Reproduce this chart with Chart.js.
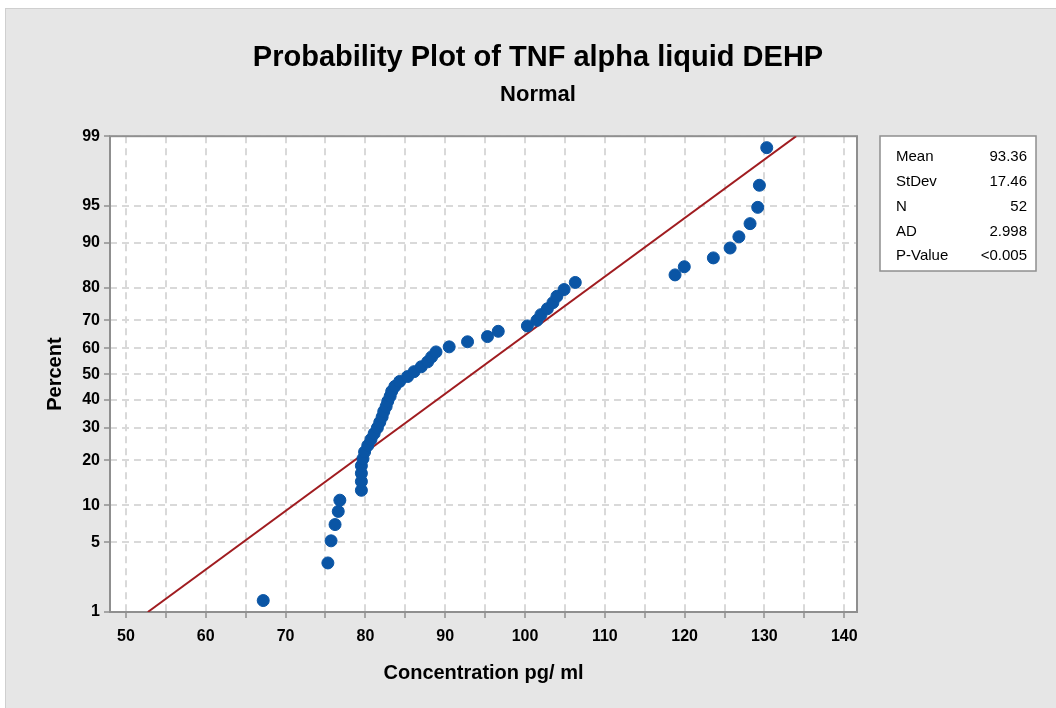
<!DOCTYPE html>
<html>
<head>
<meta charset="utf-8">
<title>Probability Plot of TNF alpha liquid DEHP</title>
<script src="https://cdn.jsdelivr.net/npm/chart.js@4.4.1/dist/chart.umd.min.js"></script>
<style>
  html, body { margin: 0; padding: 0; background: #ffffff; }
  #wrap { width: 1056px; height: 708px; position: relative; }
</style>
</head>
<body>
<div id="wrap"><canvas id="probplot" width="1056" height="708"></canvas></div>
<script>
/* Normal probability plot — Minitab style */

const FONT = "'Liberation Sans', Arial, sans-serif";

// concentration values, sorted ascending (pg/ml)
const concentrations = [
    67.2, 75.3, 75.7, 76.2, 76.6, 76.8, 79.5, 79.5, 79.5, 79.5,
    79.7, 79.9, 80.3, 80.7, 81.1, 81.5, 81.8, 82.1, 82.3, 82.6,
    82.8, 83.1, 83.3, 83.7, 84.3, 85.3, 86.1, 87.0, 87.8, 88.3,
    88.85, 90.5, 92.8, 95.3, 96.65, 100.3, 101.5, 102.0, 102.8, 103.5,
    104.0, 104.9, 106.3, 118.8, 119.96, 123.6, 125.7, 126.8, 128.2, 129.16,
    129.37, 130.29,
];
// plotting positions (percent) for each ranked value
const percents = [
    1.34, 3.24, 5.15, 7.06, 8.97, 10.88, 12.79, 14.69, 16.60, 18.51,
    20.42, 22.33, 24.24, 26.15, 28.05, 29.96, 31.87, 33.78, 35.69, 37.60,
    39.50, 41.41, 43.32, 45.23, 47.14, 49.05, 50.95, 52.86, 54.77, 56.68,
    58.59, 60.50, 62.40, 64.31, 66.22, 68.13, 70.04, 71.95, 73.85, 75.76,
    77.67, 79.58, 81.49, 83.40, 85.31, 87.21, 89.12, 91.03, 92.94, 94.85,
    96.76, 98.66,
];

const percentTicks = [1, 5, 10, 20, 30, 40, 50, 60, 70, 80, 90, 95, 99];
const xTicks = [50, 55, 60, 65, 70, 75, 80, 85, 90, 95, 100, 105, 110, 115, 120, 125, 130, 135, 140];

const fitMean = 93.36;
const fitStDev = 17.46;
const fitPercents = [1, 99];

const statLabels = ["Mean", "StDev", "N", "AD", "P-Value"];
const statValues = ["93.36", "17.46", "52", "2.998", "<0.005"];

// inverse standard normal CDF (Acklam)
function probit(p) {
    const a = [-39.6968302866538, 220.946098424521, -275.928510446969, 138.357751867269, -30.6647980661472, 2.50662827745924];
    const b = [-54.4760987982241, 161.585836858041, -155.698979859887, 66.8013118877197, -13.2806815528857];
    const c = [-0.00778489400243029, -0.322396458041136, -2.40075827716184, -2.54973253934373, 4.37466414146497, 2.93816398269878];
    const d = [0.00778469570904146, 0.32246712907004, 2.445134137143, 3.75440866190742];
    const plow = 0.02425;
    let q, r;
    if (p < plow) {
        q = Math.sqrt(-2 * Math.log(p));
        return (((((c[0] * q + c[1]) * q + c[2]) * q + c[3]) * q + c[4]) * q + c[5]) /
            ((((d[0] * q + d[1]) * q + d[2]) * q + d[3]) * q + 1);
    }
    if (p > 1 - plow) {
        q = Math.sqrt(-2 * Math.log(1 - p));
        return -(((((c[0] * q + c[1]) * q + c[2]) * q + c[3]) * q + c[4]) * q + c[5]) /
            ((((d[0] * q + d[1]) * q + d[2]) * q + d[3]) * q + 1);
    }
    q = p - 0.5;
    r = q * q;
    return (((((a[0] * r + a[1]) * r + a[2]) * r + a[3]) * r + a[4]) * r + a[5]) * q /
        (((((b[0] * r + b[1]) * r + b[2]) * r + b[3]) * r + b[4]) * r + 1);
}

const pointData = concentrations.map((x, i) => ({ x, y: probit(percents[i] / 100) }));
const fitData = fitPercents.map((p) => {
    const z = probit(p / 100);
    return { x: fitMean + z * fitStDev, y: z };
});

/* backgrounds, plot frame and the stats box */
const decorPlugin = {
    id: "decor",
    beforeDraw(chart) {
        const { ctx, chartArea: a } = chart;
        ctx.save();
        ctx.fillStyle = "#ffffff";
        ctx.fillRect(0, 0, chart.width, chart.height);
        ctx.fillStyle = "#e6e6e6";
        ctx.fillRect(5, 8, chart.width - 5, chart.height - 8);
        ctx.strokeStyle = "#cfcfcf";
        ctx.lineWidth = 1;
        ctx.strokeRect(5.5, 8.5, chart.width, chart.height);
        ctx.fillStyle = "#ffffff";
        ctx.fillRect(a.left, a.top, a.right - a.left, a.bottom - a.top);
        ctx.restore();
    },
    beforeDatasetsDraw(chart) {
        const { ctx, chartArea: a } = chart;
        ctx.save();
        ctx.strokeStyle = "#8f8f8f";
        ctx.lineWidth = 2;
        ctx.strokeRect(a.left, a.top, a.right - a.left, a.bottom - a.top);
        ctx.restore();
    },
    afterDraw(chart) {
        const ctx = chart.ctx;
        const box = { x: 880, y: 136, w: 156, h: 135 };
        ctx.save();
        ctx.fillStyle = "#ffffff";
        ctx.fillRect(box.x, box.y, box.w, box.h);
        ctx.strokeStyle = "#8f8f8f";
        ctx.lineWidth = 1.5;
        ctx.strokeRect(box.x, box.y, box.w, box.h);
        ctx.fillStyle = "#000000";
        ctx.font = "15px " + FONT;
        ctx.textBaseline = "middle";
        statLabels.forEach((lab, i) => {
            const y = 157 + i * 24.8;
            ctx.textAlign = "left";
            ctx.fillText(lab, 896, y);
            ctx.textAlign = "right";
            ctx.fillText(statValues[i], 1027, y);
        });
        ctx.restore();
    },
};

const gridStyle = {
    color: "#d9d9d9",
    lineWidth: 2,
    tickColor: "#8f8f8f",
    tickLength: 6,
    tickWidth: 1.5,
};

new Chart(document.getElementById("probplot"), {
    type: "scatter",
    data: {
        datasets: [
            {
                label: "TNF alpha liquid DEHP",
                data: pointData,
                backgroundColor: "#0a55a5",
                borderColor: "#0a55a5",
                pointRadius: 6,
                pointHoverRadius: 6,
            },
            {
                label: "Fit",
                type: "line",
                data: fitData,
                borderColor: "#a01c20",
                borderWidth: 2,
                pointRadius: 0,
                fill: false,
            },
        ],
    },
    options: {
        responsive: false,
        animation: false,
        layout: { padding: { left: 20, right: 0, top: 0, bottom: 0 } },
        scales: {
            x: {
                type: "linear",
                min: 48,
                max: 141.6,
                afterBuildTicks: (s) => { s.ticks = xTicks.map((v) => ({ value: v })); },
                afterFit: (s) => { s.height = 96; },
                grid: gridStyle,
                border: { display: false, dash: [7, 5] },
                ticks: {
                    color: "#000",
                    padding: 9,
                    maxRotation: 0,
                    autoSkip: false,
                    font: { family: FONT, size: 16, weight: "bold" },
                    callback: (v) => (v % 10 === 0 ? String(v) : ""),
                },
                title: {
                    display: true,
                    text: "Concentration pg/ ml",
                    color: "#000",
                    font: { family: FONT, size: 20, weight: "bold" },
                    padding: { top: 0, bottom: 23 },
                },
            },
            y: {
                type: "linear",
                min: probit(0.01),
                max: probit(0.99),
                afterBuildTicks: (s) => { s.ticks = percentTicks.map((p) => ({ value: probit(p / 100) })); },
                afterFit: (s) => { s.width = 90; },
                grid: gridStyle,
                border: { display: false, dash: [7, 5] },
                ticks: {
                    color: "#000",
                    padding: 4,
                    autoSkip: false,
                    font: { family: FONT, size: 16, weight: "bold" },
                    callback: (v, i) => String(percentTicks[i]),
                },
                title: {
                    display: true,
                    text: "Percent",
                    color: "#000",
                    font: { family: FONT, size: 20, weight: "bold" },
                    padding: { top: 23, bottom: 0 },
                },
            },
            side: {
                type: "linear",
                position: "right",
                display: true,
                afterFit: (s) => { s.width = 199; },
                grid: { display: false },
                border: { display: false },
                ticks: { display: false },
            },
        },
        plugins: {
            legend: { display: false },
            tooltip: { enabled: false },
            title: {
                display: true,
                text: "Probability Plot of TNF alpha liquid DEHP",
                color: "#000",
                font: { family: FONT, size: 29, weight: "bold" },
                padding: { top: 41, bottom: 6 },
            },
            subtitle: {
                display: true,
                text: "Normal",
                color: "#000",
                font: { family: FONT, size: 22, weight: "bold" },
                padding: { top: 0, bottom: 28 },
            },
        },
    },
    plugins: [decorPlugin],
});
</script>
</body>
</html>
